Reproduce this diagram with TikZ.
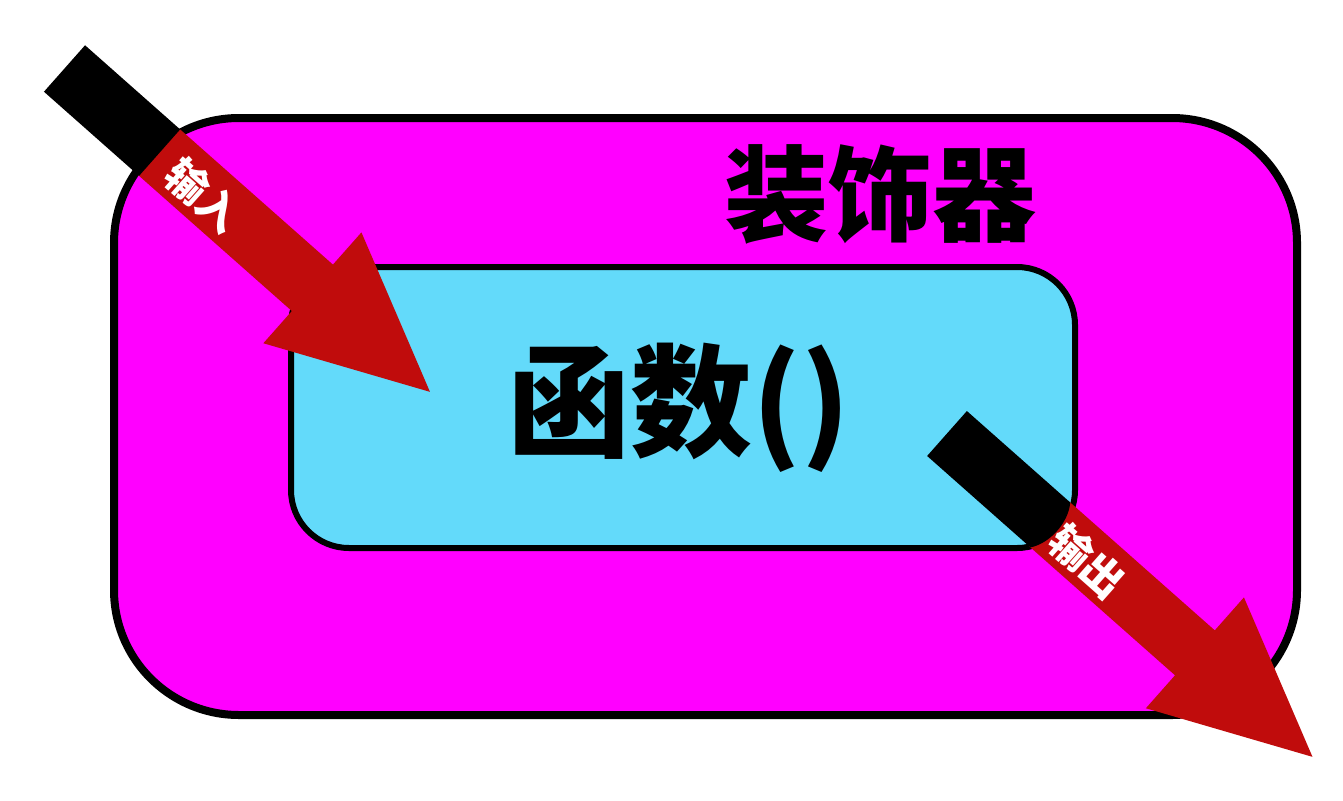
\documentclass[tikz,border=0pt]{standalone}
\usepackage{fontspec}
\newfontfamily\cjk{Noto Sans CJK SC}
\definecolor{magentaF}{HTML}{FF00FF}
\definecolor{cyanF}{HTML}{63DAFA}
\definecolor{redF}{HTML}{C00C0C}
\tikzset{
  outerbox/.style={draw=black, line width=8pt, fill=magentaF, rounded corners=125pt,
    minimum width=1183pt, minimum height=597pt, inner sep=0pt},
  innerbox/.style={draw=black, line width=6pt, fill=cyanF, rounded corners=58pt,
    minimum width=784pt, minimum height=281pt, inner sep=0pt},
  bigtext/.style={text=black, inner sep=0pt, font=\cjk\bfseries\fontsize{#1}{#1}\selectfont},
  arrowlabel/.style={text=white, inner sep=0pt, rotate=-41.5, font=\cjk\bfseries\fontsize{42}{42}\selectfont},
  redshaft/.style={fill=redF, draw=none},
  blackshaft/.style={fill=black, draw=none}
}
\begin{document}
\begin{tikzpicture}[x=1pt,y=-1pt]
\useasboundingbox (0,0) rectangle (1343,800);
\fill[white] (0,0) rectangle (1343,800);
\node[outerbox] (deco) at (705.5,416.5) {};
\node[innerbox] (func) at (683,407.5) {};
\node[bigtext=104] (decotxt) at (880,194) {装饰器};
\node[bigtext=122] (functxt) at (679,408) {函数()};
% input arrow
\begin{scope}[shift={(64.5,68.5)}, rotate=-41.5]
  \coordinate (inStart) at (0,0);
  \coordinate (inTip) at (488,0);
  \fill[redshaft] (126,-31) -- (331,-31) -- (331,-74) -- (inTip) -- (331,74) -- (331,31) -- (126,31) -- cycle;
  \fill[blackshaft] (0,-31) -- (127,-31) -- (127,31) -- (0,31) -- cycle;
  \node[arrowlabel] (inlbl) at (188,3) {输入};
\end{scope}
% output arrow
\begin{scope}[shift={(947,433.5)}, rotate=-41.5]
  \coordinate (outStart) at (0,0);
  \coordinate (outTip) at (488,0);
  \fill[redshaft] (136,-30) -- (331,-30) -- (331,-74) -- (outTip) -- (331,74) -- (331,30) -- (136,30) -- cycle;
  \fill[blackshaft] (0,-30) -- (138,-30) .. controls (150,-14) and (150,14) .. (138,30) -- (0,30) -- cycle;
  \node[arrowlabel] (outlbl) at (190,3) {输出};
\end{scope}
\end{tikzpicture}
\end{document}
